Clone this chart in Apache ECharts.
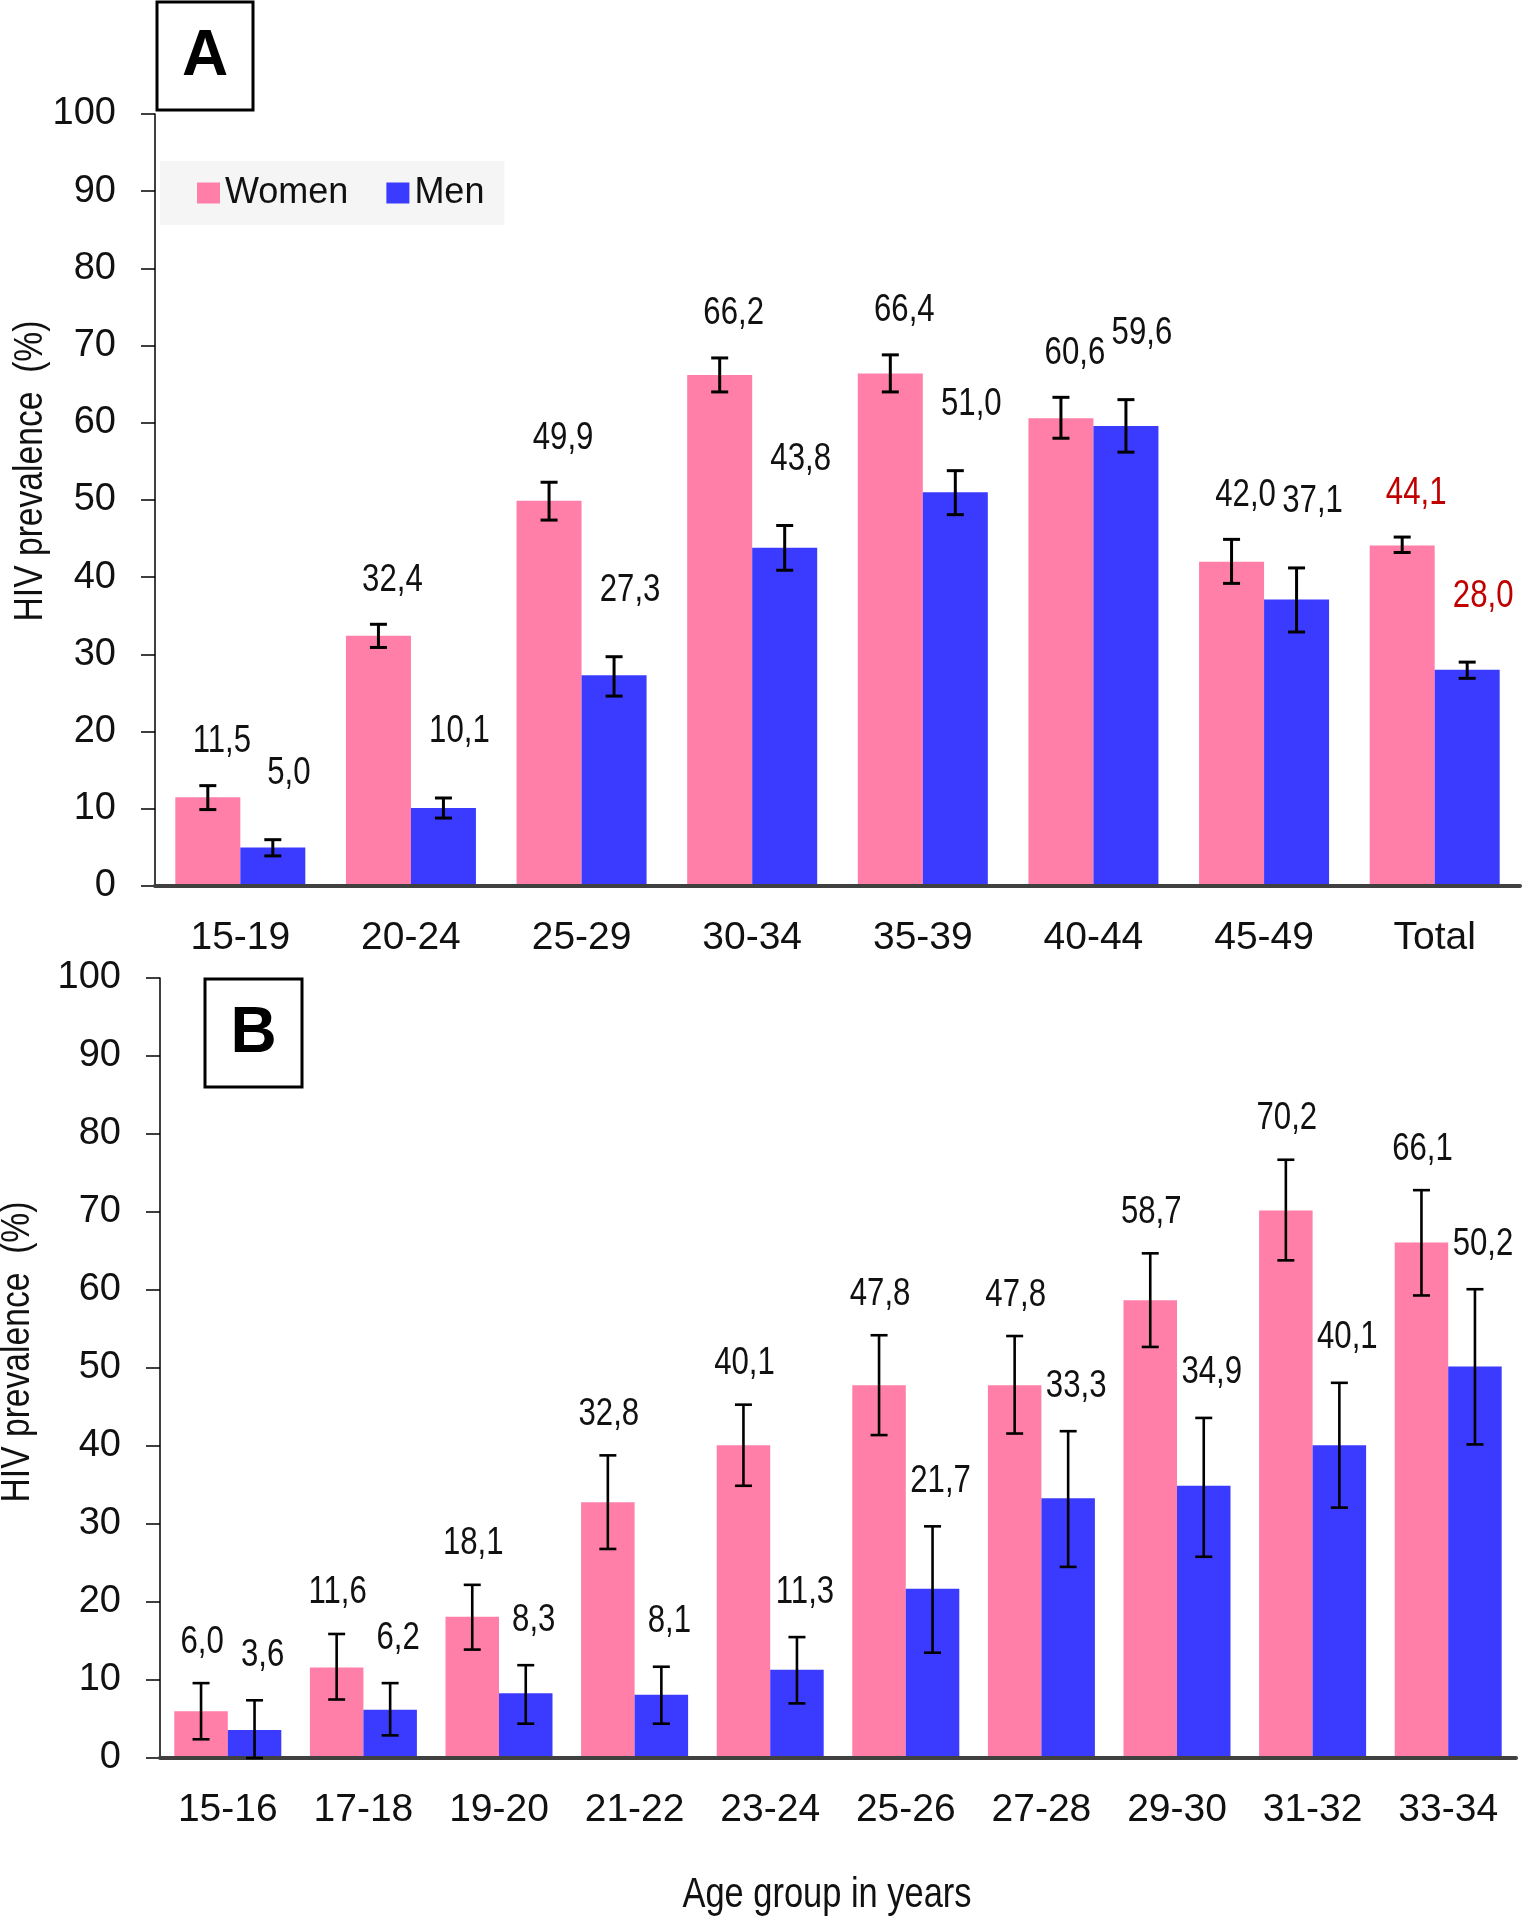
<!DOCTYPE html>
<html>
<head>
<meta charset="utf-8">
<script src="https://cdn.jsdelivr.net/npm/echarts@6/dist/echarts.min.js"></script>
<style>
html,body{margin:0;padding:0;background:#fff;}
#chart{width:1524px;height:1920px;}
</style>
</head>
<body>
<div id="chart"></div>
<script>
// ---- Panel A data ----
const catsA = ['15-19','20-24','25-29','30-34','35-39','40-44','45-49','Total'];
const womenA = [11.5, 32.4, 49.9, 66.2, 66.4, 60.6, 42.0, 44.1];
const menA = [5.0, 10.1, 27.3, 43.8, 51.0, 59.6, 37.1, 28.0];
const womenALow = [9.9, 30.9, 47.4, 64.0, 64.0, 58.0, 39.2, 43.2];
const womenAHigh = [13.0, 33.9, 52.3, 68.4, 68.8, 63.3, 44.9, 45.2];
const menALow = [3.9, 8.8, 24.6, 40.9, 48.1, 56.2, 32.9, 26.9];
const menAHigh = [6.0, 11.4, 29.7, 46.7, 53.8, 63.0, 41.2, 29.0];

// ---- Panel B data ----
const catsB = ['15-16','17-18','19-20','21-22','23-24','25-26','27-28','29-30','31-32','33-34'];
const womenB = [6.0, 11.6, 18.1, 32.8, 40.1, 47.8, 47.8, 58.7, 70.2, 66.1];
const menB = [3.6, 6.2, 8.3, 8.1, 11.3, 21.7, 33.3, 34.9, 40.1, 50.2];
const womenBLow = [2.4, 7.5, 13.9, 26.8, 34.9, 41.4, 41.6, 52.7, 63.8, 59.3];
const womenBHigh = [9.6, 15.9, 22.2, 38.8, 45.3, 54.2, 54.1, 64.7, 76.7, 72.8];
const menBLow = [0.0, 2.9, 4.4, 4.4, 7.0, 13.5, 24.5, 25.8, 32.1, 40.2];
const menBHigh = [7.4, 9.6, 11.9, 11.7, 15.5, 29.7, 41.9, 43.6, 48.1, 60.1];

const yTicks = [0, 10, 20, 30, 40, 50, 60, 70, 80, 90, 100];

const FONT = "'Liberation Sans Narrow','Arial Narrow','Liberation Sans',Arial,sans-serif";
const PINK = '#FF7FA8';
const BLUE = '#3B3BFF';
const NARROW = 0.82;

function fmt(v){ return v.toFixed(1).replace('.', ','); }

function errData(vals, lo, hi){
  return vals.map((v, i) => [i, lo[i], hi[i], v]);
}

function errRender(sign, barW, lineW, dx, dy, cats){
  return function(params, api){
    const i = api.value(0), lo = api.value(1), hi = api.value(2), v = api.value(3);
    const pLo = api.coord([i, lo]);
    const pHi = api.coord([i, hi]);
    const x = pLo[0] + sign * barW / 2;
    const cap = 8.5;
    const st = {stroke:'#000', lineWidth: lineW};
    const red = cats[i] === 'Total';
    return {type:'group', children:[
      {type:'line', shape:{x1:x, y1:pHi[1], x2:x, y2:pLo[1]}, style:st},
      {type:'line', shape:{x1:x-cap, y1:pHi[1], x2:x+cap, y2:pHi[1]}, style:st},
      {type:'line', shape:{x1:x-cap, y1:pLo[1], x2:x+cap, y2:pLo[1]}, style:st},
      {type:'text', x: x + dx, y: pHi[1] - dy, scaleX: NARROW, style:{
        text: fmt(v), fill: red ? '#C00000' : '#111', font: '38px ' + FONT,
        align:'center', verticalAlign:'middle'}}
    ]};
  };
}

const chart = echarts.init(document.getElementById('chart'), null, {renderer:'canvas'});

function yAxisCfg(gi){
  return {
    type:'value', gridIndex: gi, min: yTicks[0], max: yTicks[yTicks.length-1], interval: 10,
    axisLine:{show:true, lineStyle:{color:'#000', width:1.5}},
    axisTick:{show:true, length:14, lineStyle:{color:'#000', width:1.5}},
    splitLine:{show:false},
    axisLabel:{fontSize:38, fontFamily:FONT, color:'#111', margin:39}
  };
}
function xAxisCfg(gi, cats){
  return {
    type:'category', gridIndex: gi, data: cats,
    axisLine:{show:true, lineStyle:{color:'#404040', width:4}},
    axisTick:{show:false},
    axisLabel:{fontSize:39, fontFamily:FONT, color:'#111', margin:33, interval:0},
    z: 5
  };
}

const option = {
  backgroundColor:'#fff',
  animation:false,
  grid:[
    {left:155, top:114, width:1365, height:772, containLabel:false},
    {left:160, top:978, width:1356, height:780, containLabel:false}
  ],
  xAxis:[xAxisCfg(0, catsA), xAxisCfg(1, catsB)],
  yAxis:[yAxisCfg(0), yAxisCfg(1)],
  legend:{
    data:['Women','Men'], left:160, top:161,
    backgroundColor:'#F5F5F5', padding:[14, 20, 14, 37],
    itemWidth:23, itemHeight:21, itemGap:38,
    icon:'rect',
    textStyle:{fontSize:36, fontFamily:FONT, color:'#111'}
  },
  series:[
    {name:'Women', type:'bar', xAxisIndex:0, yAxisIndex:0, data: womenA, barWidth:65, barGap:'0%', itemStyle:{color:PINK}},
    {name:'Men', type:'bar', xAxisIndex:0, yAxisIndex:0, data: menA, barWidth:65, barGap:'0%', itemStyle:{color:BLUE}},
    {name:'Women', type:'bar', xAxisIndex:1, yAxisIndex:1, data: womenB, barWidth:53.5, barGap:'0%', itemStyle:{color:PINK}},
    {name:'Men', type:'bar', xAxisIndex:1, yAxisIndex:1, data: menB, barWidth:53.5, barGap:'0%', itemStyle:{color:BLUE}},
    {name:'errWA', type:'custom', xAxisIndex:0, yAxisIndex:0, z:10, data: errData(womenA, womenALow, womenAHigh),
      renderItem: errRender(-1, 65, 3, 14, 44, catsA), encode:{x:0, y:[1,2]}},
    {name:'errMA', type:'custom', xAxisIndex:0, yAxisIndex:0, z:10, data: errData(menA, menALow, menAHigh),
      renderItem: errRender(1, 65, 3, 16, 66, catsA), encode:{x:0, y:[1,2]}},
    {name:'errWB', type:'custom', xAxisIndex:1, yAxisIndex:1, z:10, data: errData(womenB, womenBLow, womenBHigh),
      renderItem: errRender(-1, 53.5, 2.6, 1, 41, catsB), encode:{x:0, y:[1,2]}},
    {name:'errMB', type:'custom', xAxisIndex:1, yAxisIndex:1, z:10, data: errData(menB, menBLow, menBHigh),
      renderItem: errRender(1, 53.5, 2.6, 8, 45, catsB), encode:{x:0, y:[1,2]}}
  ],
  graphic:[
    {type:'text', x:31, y:471, rotation:Math.PI/2, scaleX:NARROW, style:{text:'HIV prevalence  (%)', font:'41px '+FONT, fill:'#111', align:'center', verticalAlign:'middle'}},
    {type:'text', x:18, y:1352, rotation:Math.PI/2, scaleX:NARROW, style:{text:'HIV prevalence  (%)', font:'41px '+FONT, fill:'#111', align:'center', verticalAlign:'middle'}},
    {type:'text', x:827, y:1895, scaleX:NARROW, style:{text:'Age group in years', font:'42px '+FONT, fill:'#111', align:'center', verticalAlign:'middle'}},
    {type:'rect', shape:{x:157, y:2, width:96, height:108}, style:{fill:'#fff', stroke:'#000', lineWidth:3}, z:20},
    {type:'text', x:205, y:57, style:{text:'A', font:'bold 64px '+FONT, fill:'#000', align:'center', verticalAlign:'middle'}, z:21},
    {type:'rect', shape:{x:205, y:979, width:97, height:108}, style:{fill:'#fff', stroke:'#000', lineWidth:3}, z:20},
    {type:'text', x:253.5, y:1034, style:{text:'B', font:'bold 64px '+FONT, fill:'#000', align:'center', verticalAlign:'middle'}, z:21}
  ]
};
chart.setOption(option);
</script>
</body>
</html>
